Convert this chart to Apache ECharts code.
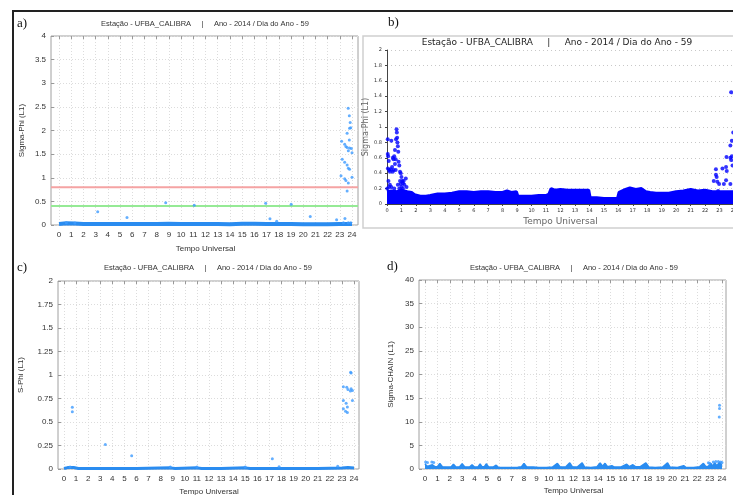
<!DOCTYPE html>
<html><head><meta charset="utf-8">
<script src="https://cdn.jsdelivr.net/npm/echarts@6/dist/echarts.min.js"></script>
<style>html,body{margin:0;padding:0;background:#fff}#c{width:733px;height:495px}</style>
</head><body><div id="c"></div>
<script>
// ---------- text ----------
const titleText = 'Estação - UFBA_CALIBRA     |     Ano - 2014 / Dia do Ano - 59';
const panelLabels = ['a)', 'b)', 'c)', 'd)'];
const xName = 'Tempo Universal';
const yNames = ['Sigma-Phi (L1)', 'Sigma-Phi (L1)', 'S-Phi (L1)', 'Sigma-CHAIN (L1)'];

// ---------- panel a : Sigma-Phi ----------
const aThresholds = [0.8, 0.4];           // red, green
const aBand = [[0,0.02],[0.6,0.035],[1.3,0.03],[2,0.02],[3,0.02],[4,0.02],[5,0.02],[6,0.02],[7,0.02],[8,0.02],[9,0.025],[10,0.02],[11,0.02],[12,0.02],[13,0.02],[14,0.015],[15,0.025],[16,0.025],[17,0.02],[18,0.02],[19,0.02],[20,0.015],[21,0.015],[22,0.015],[23,0.02],[24,0.02]];
const aPoints = [[3.17,0.28],[5.57,0.16],[8.74,0.47],[11.08,0.42],[16.93,0.46],[17.28,0.13],[17.83,0.08],[19.02,0.44],[20.58,0.18],[22.74,0.11],[23.42,0.14],
  [23.69,2.47],[23.78,2.31],[23.85,2.17],[23.8,2.05],[23.9,2.06],[23.6,1.94],[23.15,1.77],[23.4,1.71],[23.5,1.66],[23.6,1.64],[23.8,1.63],[23.95,1.62],[23.7,1.57],[24.0,1.53],[23.78,1.8],
  [23.2,1.39],[23.4,1.33],[23.6,1.27],[23.7,1.2],[23.8,1.18],[23.1,1.04],[23.4,0.98],[23.5,0.94],[24.0,1.01],[23.7,0.89],[23.6,0.72],
  [0.6,0.045],[1.3,0.04],[23.3,0.045],[23.7,0.05],[23.9,0.045]];

// ---------- panel b : Sigma-Phi (dense) ----------
const bBand = [[0,0.16],[0.3,0.17],[0.7,0.16],[1.0,0.18],[1.4,0.16],[1.7,0.15],[1.9,0.12],[2.3,0.1],[2.7,0.1],[3.0,0.11],[3.5,0.13],[4.0,0.13],[4.5,0.14],[5.0,0.16],[5.5,0.16],[6.0,0.15],[6.5,0.16],[7.0,0.16],[7.5,0.15],[8.0,0.15],[8.3,0.17],[8.6,0.15],[8.95,0.16],[9.05,0.1],[9.5,0.1],[10.0,0.1],[10.5,0.11],[11.0,0.11],[11.2,0.13],[11.35,0.2],[11.6,0.18],[12.0,0.19],[12.5,0.18],[13.0,0.18],[13.5,0.18],[13.95,0.18],[14.05,0.08],[14.5,0.08],[15.0,0.07],[15.5,0.07],[15.95,0.075],[16.05,0.15],[16.5,0.19],[16.8,0.21],[17.2,0.19],[17.6,0.2],[17.9,0.16],[18.2,0.15],[18.6,0.14],[19.0,0.14],[19.5,0.14],[20.0,0.16],[20.5,0.17],[21.0,0.19],[21.5,0.17],[22.0,0.18],[22.5,0.16],[23.0,0.16],[23.5,0.16],[24,0.16]];
const bPoints = [[0.05,0.84],[0.08,0.62],[0.12,0.56],[0.06,0.46],[0.15,0.44],[0.2,0.42],[0.25,0.45],[0.3,0.82],[0.35,0.48],[0.4,0.42],[0.45,0.44],[0.5,0.62],[0.55,0.70],[0.6,0.58],[0.62,0.84],[0.66,0.97],[0.68,0.93],[0.7,0.86],[0.72,0.80],[0.75,0.75],[0.78,0.68],[0.55,0.52],[0.6,0.44],[0.8,0.55],[0.85,0.50],[0.9,0.42],[0.95,0.40],[1.0,0.35],[1.05,0.30],[1.1,0.27],[1.15,0.30],[1.2,0.25],[1.3,0.33],[1.35,0.22],[0.9,0.30],[0.95,0.26],[1.0,0.22],[0.2,0.25],[0.1,0.30],[0.15,0.22],[0.3,0.22],[0.5,0.20],[0.05,0.65],[0.02,0.20],[0.85,0.2],[1.1,0.2],[0.75,0.25],[0.4,0.6],[0.45,0.58],
  [23.8,1.45],[23.75,0.76],[23.85,0.82],[23.48,0.61],[23.75,0.60],[23.8,0.57],[23.85,0.62],[23.45,0.48],[23.2,0.46],[23.5,0.43],[22.75,0.45],[22.75,0.38],[22.8,0.35],[22.85,0.29],[22.97,0.26],[23.3,0.26],[23.45,0.31],[22.6,0.30],[23.75,0.26],[22.9,0.17],[23.9,0.5],[23.95,0.93]];

// ---------- panel c : S-Phi ----------
const cBand = [[0,0.005],[0.3,0.015],[0.8,0.015],[1.2,0.006],[2,0.005],[4,0.006],[6,0.005],[8.8,0.012],[9.2,0.005],[11,0.012],[11.4,0.005],[13,0.005],[15,0.012],[15.4,0.005],[17,0.006],[19,0.005],[21,0.005],[23,0.01],[23.5,0.015],[24,0.01]];
const cPoints = [[0.69,0.656],[0.69,0.61],[3.42,0.26],[5.6,0.14],[17.24,0.11],[17.8,0.025],[22.65,0.03],[23.76,1.02],[23.72,1.03],[23.12,0.876],[23.4,0.87],[23.5,0.845],[23.76,0.855],[23.7,0.83],[23.87,0.835],[23.12,0.73],[23.87,0.73],[23.35,0.70],[23.45,0.66],[23.12,0.64],[23.3,0.615],[23.45,0.6],[0.5,0.02],[8.8,0.02],[11,0.02],[15,0.02]];

// ---------- panel d : Sigma-CHAIN ----------
const dBand = [[0,1.1],[0.15,0.6],[0.35,0.7],[0.6,0.9],[0.8,0.5],[1.0,0.5],[1.2,1.2],[1.4,0.5],[1.8,0.4],[2.1,0.4],[2.3,1.0],[2.5,0.4],[2.8,0.5],[3.0,1.1],[3.2,0.5],[3.6,0.4],[3.8,0.9],[4.0,0.4],[4.3,0.5],[4.45,1.1],[4.6,0.5],[4.8,0.5],[4.95,1.1],[5.15,0.4],[5.5,0.4],[5.75,0.8],[5.95,0.3],[6.5,0.3],[7.0,0.3],[7.5,0.35],[7.8,0.5],[8.0,1.2],[8.2,0.5],[8.4,0.4],[8.55,0.8],[8.75,0.4],[9.2,0.3],[9.8,0.3],[10.3,0.4],[10.7,1.2],[10.9,0.5],[11.1,0.4],[11.25,0.8],[11.4,0.5],[11.7,1.3],[11.9,0.5],[12.3,0.4],[12.7,1.3],[12.9,0.4],[13.4,0.3],[13.9,0.5],[14.15,1.3],[14.35,0.6],[14.55,1.2],[14.75,0.5],[15.1,0.7],[15.3,0.4],[15.8,0.4],[16.3,1.0],[16.5,0.5],[16.8,0.9],[17.0,0.5],[17.4,0.5],[17.85,1.3],[18.1,0.4],[18.6,0.3],[19.2,0.4],[19.6,1.3],[19.8,0.4],[20.4,0.3],[20.9,0.7],[21.1,0.3],[21.7,0.3],[22.2,0.5],[22.5,1.2],[22.7,0.5],[22.9,0.6],[23.1,1.2],[23.25,0.6],[23.4,1.3],[23.6,0.7],[23.8,1.5],[24,0.7]];
const dPoints = [[23.8,13.5],[23.8,12.8],[23.78,11.0],[0.05,1.5],[0.2,1.4],[0.55,1.5],[0.7,1.4],[23.3,1.5],[23.5,1.6],[23.7,1.6],[23.9,1.5],[24,1.4],[22.9,1.3],[23.0,1.2]];

// ---------- styling ----------
const SANS = 'Liberation Sans, Arial, sans-serif';
const DV = 'DejaVu Sans, sans-serif';
const dotGrid = { show: true, lineStyle: { color: '#dcdcdc', type: [1, 2], width: 1 } };
const lbl = { fontFamily: SANS, fontSize: 8, color: '#333' };
const nameTS = { fontFamily: SANS, fontSize: 8, color: '#333' };
const blueL = '#2a8cf0';
const blueB = '#0000ff';

function frameX(g) { return { gridIndex: g, type: 'value', min: 0, max: 1, show: false }; }
function dataX(g, gap) {
  return { gridIndex: g, type: 'value', min: 0, max: 24, interval: 1, position: 'bottom',
    axisLine: { show: false }, axisTick: { show: false },
    axisLabel: Object.assign({ margin: 6 }, lbl), splitLine: dotGrid,
    name: xName, nameLocation: 'middle', nameGap: gap, nameTextStyle: nameTS };
}
function topX(g) {
  return { gridIndex: g, type: 'value', min: 0, max: 24, interval: 1, position: 'top',
    axisLine: { show: false }, axisLabel: { show: false }, splitLine: { show: false },
    axisTick: { show: true, inside: true, length: 3, lineStyle: { color: '#999' } } };
}
function frameY(g, max, itv, name, gap) {
  return { gridIndex: g, type: 'value', min: 0, max: max, interval: itv,
    axisLine: { show: false }, axisTick: { show: true, inside: true, length: 3, lineStyle: { color: '#999' } },
    axisLabel: Object.assign({ margin: 5 }, lbl), splitLine: dotGrid,
    name: name, nameLocation: 'middle', nameGap: gap, nameTextStyle: nameTS };
}
function hiddenY(g, max) { return { gridIndex: g, type: 'value', min: 0, max: max, show: false }; }
const frameBorder = { show: true, borderColor: '#a0a0a0', borderWidth: 1, backgroundColor: 'transparent' };
const noOuter = { outerBoundsMode: 'none', containLabel: false };

const grids = [
  Object.assign({ left: 51, top: 36, width: 307, height: 189 }, frameBorder, noOuter),   // 0 a frame
  Object.assign({ left: 59, top: 36, width: 293, height: 189 }, noOuter),                // 1 a data
  Object.assign({ left: 387, top: 50, width: 347, height: 154 }, noOuter),               // 2 b
  Object.assign({ left: 58, top: 281, width: 301, height: 188 }, frameBorder, noOuter),  // 3 c frame
  Object.assign({ left: 64, top: 281, width: 290, height: 188 }, noOuter),               // 4 c data
  Object.assign({ left: 419, top: 280, width: 307, height: 189 }, frameBorder, noOuter), // 5 d frame
  Object.assign({ left: 425, top: 280, width: 297, height: 189 }, noOuter)               // 6 d data
];

const xAxes = [
  frameX(0),            // 0
  dataX(1, 20),         // 1
  topX(1),              // 2
  { gridIndex: 2, type: 'value', min: 0, max: 24, interval: 1,   // 3 (b)
    axisLine: { show: true, lineStyle: { color: '#444', width: 1 } },
    axisTick: { show: true, length: 2, lineStyle: { color: '#444' } },
    axisLabel: { fontFamily: DV, fontSize: 5, color: '#333', margin: 4 },
    splitLine: { show: false },
    name: xName, nameLocation: 'middle', nameGap: 13,
    nameTextStyle: { fontFamily: DV, fontSize: 9, color: '#666' } },
  frameX(3),            // 4
  dataX(4, 19),         // 5
  topX(4),              // 6
  frameX(5),            // 7
  dataX(6, 18),         // 8
  topX(6)               // 9
];

const yAxes = [
  frameY(0, 4, 0.5, yNames[0], 25),          // 0
  hiddenY(1, 4),                              // 1
  { gridIndex: 2, type: 'value', min: 0, max: 2, interval: 0.2,   // 2 (b)
    axisLine: { show: true, lineStyle: { color: '#444', width: 1 } },
    axisTick: { show: true, length: 2, lineStyle: { color: '#444' } },
    axisLabel: { fontFamily: DV, fontSize: 5, color: '#333', margin: 5 },
    splitLine: { show: true, lineStyle: { color: '#c8c8c8', type: [1, 3], width: 1 } },
    name: yNames[1], nameLocation: 'middle', nameGap: 13,
    nameTextStyle: { fontFamily: DV, fontSize: 8, color: '#666' } },
  frameY(3, 2, 0.25, yNames[2], 33),         // 3
  hiddenY(4, 2),                              // 4
  frameY(5, 40, 5, yNames[3], 24),           // 5
  hiddenY(6, 40)                              // 6
];

const series = [];
// a thresholds (span the full frame width)
const thrColors = ['#f5a3a3', '#95ea95'];
aThresholds.forEach((t, i) => series.push({
  type: 'line', xAxisIndex: 0, yAxisIndex: 0, silent: true, symbol: 'none',
  data: [[0, t], [1, t]], lineStyle: { color: thrColors[i], width: 2 }, z: 2 }));
series.push({ type: 'line', xAxisIndex: 1, yAxisIndex: 1, data: aBand, symbol: 'none', silent: true,
  lineStyle: { color: blueL, width: 4 }, z: 3 });
series.push({ type: 'scatter', xAxisIndex: 1, yAxisIndex: 1, data: aPoints, symbolSize: 3,
  itemStyle: { color: '#3d9bff' }, silent: true, z: 4 });
// b
series.push({ type: 'line', xAxisIndex: 3, yAxisIndex: 2, data: bBand, symbol: 'none', silent: true,
  lineStyle: { color: blueB, width: 3 }, areaStyle: { color: blueB, opacity: 1 }, z: 3 });
series.push({ type: 'scatter', xAxisIndex: 3, yAxisIndex: 2, data: bPoints, symbolSize: 4,
  itemStyle: { color: blueB }, silent: true, z: 4 });
// c
series.push({ type: 'line', xAxisIndex: 5, yAxisIndex: 4, data: cBand, symbol: 'none', silent: true,
  lineStyle: { color: blueL, width: 3 }, z: 3 });
series.push({ type: 'scatter', xAxisIndex: 5, yAxisIndex: 4, data: cPoints, symbolSize: 3,
  itemStyle: { color: '#3d9bff' }, silent: true, z: 4 });
// d
series.push({ type: 'line', xAxisIndex: 8, yAxisIndex: 6, data: dBand, symbol: 'none', silent: true,
  lineStyle: { color: blueL, width: 1.5 }, areaStyle: { color: blueL, opacity: 1 }, z: 3 });
series.push({ type: 'scatter', xAxisIndex: 8, yAxisIndex: 6, data: dPoints, symbolSize: 3,
  itemStyle: { color: '#3d9bff' }, silent: true, z: 4 });

function txt(x, y, s, font, fill, align) {
  return { type: 'text', x: x, y: y, silent: true, z: 10,
    style: { text: s, font: font, fill: fill, textAlign: align || 'center', textVerticalAlign: 'middle' } };
}
const SERIF = '13px "Liberation Serif", "DejaVu Serif", serif';
const graphics = [
  // b box
  { type: 'rect', shape: { x: 363, y: 36, width: 380, height: 192 }, silent: true, z: 0,
    style: { fill: 'none', stroke: '#cfcfcf', lineWidth: 1.5 } },
  // outer figure border
  { type: 'line', shape: { x1: 12, y1: 11, x2: 733, y2: 11 }, silent: true, style: { stroke: '#222', lineWidth: 2 } },
  { type: 'line', shape: { x1: 13, y1: 11, x2: 13, y2: 495 }, silent: true, style: { stroke: '#222', lineWidth: 2 } },
  txt(205, 24, titleText, '7.5px ' + SANS, '#333'),
  txt(557, 43, titleText, '9px ' + DV, '#222'),
  txt(208, 268, titleText, '7.5px ' + SANS, '#333'),
  txt(574, 268, titleText, '7.5px ' + SANS, '#333'),
  txt(17, 24, panelLabels[0], SERIF, '#111', 'left'),
  txt(388, 23, panelLabels[1], SERIF, '#111', 'left'),
  txt(17, 268, panelLabels[2], SERIF, '#111', 'left'),
  txt(387, 267, panelLabels[3], SERIF, '#111', 'left')
];

const chart = echarts.init(document.getElementById('c'), null, { renderer: 'canvas' });
chart.setOption({
  animation: false,
  backgroundColor: '#fff',
  grid: grids, xAxis: xAxes, yAxis: yAxes, series: series, graphic: graphics
});
</script>
</body></html>
